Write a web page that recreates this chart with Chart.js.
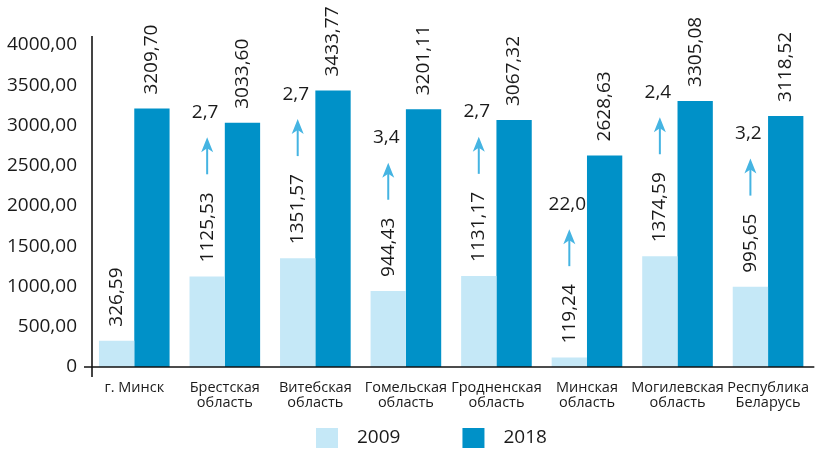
<!DOCTYPE html>
<html>
<head>
<meta charset="utf-8">
<script src="https://cdn.jsdelivr.net/npm/chart.js@4"></script>
<style>
  body { margin: 0; background: #fff; }
  canvas { display: block; }
</style>
</head>
<body>
<canvas id="salaryChart" width="822" height="449"></canvas>
<script>
// Categories, series and ratio labels
const regions = [
    ['г. Минск'],
    ['Брестская', 'область'],
    ['Витебская', 'область'],
    ['Гомельская', 'область'],
    ['Гродненская', 'область'],
    ['Минская', 'область'],
    ['Могилевская', 'область'],
    ['Республика', 'Беларусь']
];
const years = ['2009', '2018'];
const values2009 = [326.59, 1125.53, 1351.57, 944.43, 1131.17, 119.24, 1374.59, 995.65];
const values2018 = [3209.70, 3033.60, 3433.77, 3201.11, 3067.32, 2628.63, 3305.08, 3118.52];
const growth = [null, '2,7', '2,7', '3,4', '2,7', '22,0', '2,4', '3,2'];

const colors = ['#c5e8f7', '#0091c8'];
const arrowColor = '#45b4e2';
const fontFamily = '"Open Sans", sans-serif';

const fmt = v => v.toFixed(2).replace('.', ',');

// value labels, growth arrows, axis lines and legend
const extras = {
    id: 'extras',
    afterDatasetsDraw(chart) {
        const ctx = chart.ctx;
        const area = chart.chartArea;
        ctx.save();

        // rotated value labels
        ctx.font = '19px ' + fontFamily;
        ctx.fillStyle = '#1a1a1a';
        ctx.textAlign = 'left';
        ctx.textBaseline = 'middle';
        const labelTops = [];
        chart.data.datasets.forEach((ds, di) => {
            chart.getDatasetMeta(di).data.forEach((bar, i) => {
                const txt = fmt(ds.data[i]);
                const gap = 14;
                ctx.save();
                ctx.translate(bar.x, bar.y - gap);
                ctx.rotate(-Math.PI / 2);
                ctx.fillText(txt, 0, 0);
                ctx.restore();
                if (di === 0) labelTops[i] = bar.y - gap - ctx.measureText(txt).width;
            });
        });

        // growth arrows above the 2009 labels
        const meta0 = chart.getDatasetMeta(0);
        growth.forEach((g, i) => {
            if (!g) return;
            const x = meta0.data[i].x;
            const bottom = labelTops[i] - 18;
            const top = bottom - 37;
            ctx.strokeStyle = arrowColor;
            ctx.fillStyle = arrowColor;
            ctx.lineWidth = 2;
            ctx.beginPath();
            ctx.moveTo(x, bottom);
            ctx.lineTo(x, top + 10);
            ctx.stroke();
            ctx.beginPath();
            ctx.moveTo(x, top);
            ctx.lineTo(x - 6, top + 15);
            ctx.lineTo(x, top + 11);
            ctx.lineTo(x + 6, top + 15);
            ctx.closePath();
            ctx.fill();
            ctx.fillStyle = '#1a1a1a';
            ctx.textAlign = 'center';
            ctx.fillText(g, x - 2, top - 25);
        });

        // axis lines
        ctx.strokeStyle = '#444';
        ctx.lineWidth = 2;
        ctx.beginPath();
        ctx.moveTo(area.left + 3, area.top - 9);
        ctx.lineTo(area.left + 3, area.bottom + 10);
        ctx.stroke();
        ctx.strokeStyle = '#111';
        ctx.lineWidth = 1.5;
        ctx.beginPath();
        ctx.moveTo(area.left - 5, area.bottom);
        ctx.lineTo(area.right + 1, area.bottom);
        ctx.stroke();

        // legend
        ctx.font = '19px ' + fontFamily;
        ctx.textAlign = 'left';
        let lx = 316;
        const ly = 438;
        chart.data.datasets.forEach(ds => {
            ctx.fillStyle = ds.backgroundColor;
            ctx.fillRect(lx, ly - 10, 22, 20);
            ctx.fillStyle = '#1a1a1a';
            ctx.fillText(ds.label, lx + 41, ly);
            lx += 41 + ctx.measureText(ds.label).width + 62;
        });
        ctx.restore();
    }
};

const ctx = document.getElementById('salaryChart').getContext('2d');
new Chart(ctx, {
    type: 'bar',
    data: {
        labels: regions,
        datasets: [
            {
                label: years[0],
                data: values2009,
                backgroundColor: colors[0],
                categoryPercentage: 0.78,
                barPercentage: 1.0
            },
            {
                label: years[1],
                data: values2018,
                backgroundColor: colors[1],
                categoryPercentage: 0.78,
                barPercentage: 1.0
            }
        ]
    },
    options: {
        responsive: false,
        animation: false,
        layout: {
            padding: { top: 45, right: 1, left: 0, bottom: 0 }
        },
        plugins: {
            legend: { display: false },
            tooltip: { enabled: false }
        },
        scales: {
            x: {
                grid: { display: false, drawTicks: false },
                border: { display: false },
                afterFit: s => { s.height = 82; },
                ticks: {
                    padding: 13,
                    maxRotation: 0,
                    autoSkip: false,
                    color: '#1a1a1a',
                    font: { family: fontFamily, size: 14.5, lineHeight: 1.05 }
                }
            },
            y: {
                min: 0,
                max: 4000,
                grid: { display: false, drawTicks: false },
                border: { display: false },
                afterFit: s => { s.width = 89; },
                ticks: {
                    stepSize: 500,
                    padding: 12,
                    color: '#1a1a1a',
                    font: { family: fontFamily, size: 19 },
                    callback: v => v === 0 ? '0' : fmt(v)
                }
            }
        }
    },
    plugins: [extras]
});
</script>
</body>
</html>
